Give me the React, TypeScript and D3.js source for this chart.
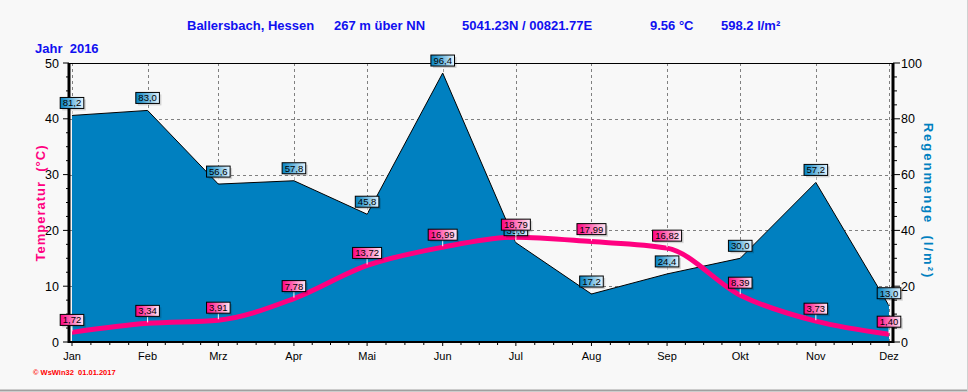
import React from 'react';
import * as d3 from 'd3';

const months = ['Jan', 'Feb', 'Mrz', 'Apr', 'Mai', 'Jun', 'Jul', 'Aug', 'Sep', 'Okt', 'Nov', 'Dez'];
const temperature = [1.72, 3.34, 3.91, 7.78, 13.72, 16.99, 18.79, 17.99, 16.82, 8.39, 3.73, 1.4];
const rain = [81.2, 83.0, 56.6, 57.8, 45.8, 96.4, 35.6, 17.2, 24.4, 30.0, 57.2, 13.0];
const tempTicks = [0, 10, 20, 30, 40, 50];
const rainTicks = [0, 20, 40, 60, 80, 100];
const titleParts = [
  { text: 'Ballersbach, Hessen', x: 187 },
  { text: '267 m über NN', x: 334 },
  { text: '5041.23N / 00821.77E', x: 462 },
  { text: '9.56 °C', x: 650 },
  { text: '598.2 l/m²', x: 721 },
];

const W = 968;
const H = 392;
const left = 69;
const right = 893;
const top = 63;
const bottom = 342;

const dates = months.map((m, i) => new Date(2016, i, 1));

const fmt = (v: number, d: number) => v.toFixed(d).replace('.', ',');
const pre = { whiteSpace: 'pre' as const };

function Label({ x, y, text, kind }: { x: number; y: number; text: string; kind: 't' | 'r' }) {
  const w = text.length * 5.4 + 2;
  const h = 11;
  const by = y - 7 - h;
  return (
    <g>
      <line x1={x} x2={x} y1={by + h} y2={y - 1} stroke="#fff" strokeWidth={1} />
      <rect x={x - w / 2 + 2} y={by + 2} width={w} height={h} fill="#000" opacity={0.15} />
      <rect x={x - w / 2} y={by} width={w} height={h} fill={`url(#grad-${kind})`} stroke="#000" strokeWidth={1} />
      <text x={x} y={by + 9} textAnchor="middle" fontSize={9.5} fontFamily="Liberation Sans, Arial" fill="#000">
        {text}
      </text>
    </g>
  );
}

export default function App() {
  const x = d3.scaleTime().domain([dates[0], dates[11]]).range([72, 889]);
  const yT = d3.scaleLinear().domain([0, 50]).range([bottom, top]);
  const yR = d3.scaleLinear().domain([0, 100]).range([bottom, top]);

  const area = d3
    .area<number>()
    .x((d, i) => x(dates[i]))
    .y0(bottom)
    .y1(d => yR(d));
  const rainTop = d3
    .line<number>()
    .x((d, i) => x(dates[i]))
    .y(d => yR(d));
  const tempLine = d3
    .line<number>()
    .x((d, i) => x(dates[i]))
    .y(d => yT(d))
    .curve(d3.curveMonotoneX);

  // quarter month ticks on the x axis
  const minorX: number[] = [];
  for (let i = 0; i < 11; i++) {
    const a = x(dates[i]);
    const b = x(dates[i + 1]);
    for (let k = 1; k < 4; k++) minorX.push(a + ((b - a) * k) / 4);
  }
  const minorT = d3.range(0, 50.01, 2.5);
  const minorR = d3.range(0, 100.01, 5);

  return (
    <svg width={W} height={H} style={{ position: 'fixed', left: 0, top: 0, background: '#f8f8f8' }}>
      <defs>
        <linearGradient id="grad-t" x1="0" x2="1" y1="0" y2="0">
          <stop offset="0" stopColor="#ff0080" />
          <stop offset="1" stopColor="#ffe8f4" />
        </linearGradient>
        <linearGradient id="grad-r" x1="0" x2="1" y1="0" y2="0">
          <stop offset="0" stopColor="#0080c0" />
          <stop offset="1" stopColor="#e4f4ff" />
        </linearGradient>
      </defs>
      <rect x={0} y={0} width={W} height={H} fill="#f8f8f8" />
      <line x1={0} x2={W} y1={H - 1.5} y2={H - 1.5} stroke="#a0a0a0" strokeWidth={2} />
      <line x1={W - 0.5} x2={W - 0.5} y1={0} y2={H} stroke="#d0d0d0" strokeWidth={1} />

      {/* title */}
      {titleParts.map(p => (
        <text key={p.text} x={p.x} y={30} fontSize={13} fontWeight="bold" fontFamily="Liberation Sans, Arial" fill="#1010f0">
          {p.text}
        </text>
      ))}
      <text x={35} y={53} style={pre} fontSize={13} fontWeight="bold" fontFamily="Liberation Sans, Arial" fill="#1010f0">
        {'Jahr  2016'}
      </text>

      {/* grid */}
      <g stroke="#808080" strokeWidth={1} strokeDasharray="3,3">
        {dates.map((d, i) => (
          <line key={i} x1={Math.round(x(d)) + 0.5} x2={Math.round(x(d)) + 0.5} y1={top} y2={bottom} />
        ))}
        {tempTicks.slice(1, -1).map(t => (
          <line key={t} x1={left} x2={right} y1={Math.round(yT(t)) + 0.5} y2={Math.round(yT(t)) + 0.5} />
        ))}
      </g>

      {/* rain area */}
      <path d={area(rain) || ''} fill="#0080c0" />
      <path d={rainTop(rain) || ''} fill="none" stroke="#000" strokeWidth={1} />

      {/* temperature */}
      <path d={tempLine(temperature) || ''} fill="none" stroke="#ff0080" strokeWidth={5} />

      {/* frame */}
      <line x1={left} x2={right} y1={top + 0.5} y2={top + 0.5} stroke="#000" strokeWidth={1} />
      <line x1={left} x2={right} y1={bottom} y2={bottom} stroke="#000" strokeWidth={2} />
      <line x1={left} x2={left} y1={top} y2={bottom + 1} stroke="#000" strokeWidth={3} />
      <line x1={right} x2={right} y1={top} y2={bottom + 1} stroke="#000" strokeWidth={3} />

      {/* left axis */}
      {minorT.map(t => (
        <line key={t} x1={left - (t % 10 === 0 ? 6 : 3)} x2={left} y1={yT(t)} y2={yT(t)} stroke="#000" />
      ))}
      {tempTicks.map(t => (
        <text key={t} x={59} y={yT(t) + 4.5} textAnchor="end" fontSize={12.5} fontFamily="Liberation Sans, Arial" fill="#000">
          {t}
        </text>
      ))}

      {/* right axis */}
      {minorR.map(t => (
        <line key={t} x1={right} x2={right + (t % 20 === 0 ? 7 : 4)} y1={yR(t)} y2={yR(t)} stroke="#000" />
      ))}
      {rainTicks.map(t => (
        <text key={t} x={901} y={yR(t) + 4.5} fontSize={12.5} fontFamily="Liberation Sans, Arial" fill="#000">
          {t}
        </text>
      ))}

      {/* bottom axis */}
      {minorX.map((v, i) => (
        <line key={i} x1={v} x2={v} y1={bottom} y2={bottom + 3} stroke="#000" />
      ))}
      {dates.map((d, i) => (
        <g key={i}>
          <line x1={x(d)} x2={x(d)} y1={bottom} y2={bottom + 4} stroke="#000" />
          <text x={x(d)} y={360} textAnchor="middle" fontSize={11} fontFamily="Liberation Sans, Arial" fill="#000">
            {months[i]}
          </text>
        </g>
      ))}

      {/* axis titles */}
      <text
        transform="translate(45,203) rotate(-90)"
        textAnchor="middle"
        style={pre}
        fontSize={13}
        fontWeight="bold"
        letterSpacing={1}
        fontFamily="Liberation Sans, Arial"
        fill="#ff0080"
      >
        {'Temperatur  (°C)'}
      </text>
      <text
        transform="translate(924,201) rotate(90)"
        textAnchor="middle"
        style={pre}
        fontSize={13}
        fontWeight="bold"
        letterSpacing={2}
        fontFamily="Liberation Sans, Arial"
        fill="#0080c0"
      >
        {'Regenmenge  (l/m²)'}
      </text>

      {/* value labels (Jul rain label sits under the temperature label, as in the original) */}
      {rain.map((v, i) => (
        <Label key={'r' + i} x={x(dates[i])} y={yR(v)} text={fmt(v, 1)} kind="r" />
      ))}
      {temperature.map((v, i) => (
        <Label key={'t' + i} x={x(dates[i])} y={yT(v)} text={fmt(v, 2)} kind="t" />
      ))}

      <text x={33} y={375} style={pre} fontSize={7.5} fontWeight="bold" fontFamily="Liberation Sans, Arial" fill="#ff0000">
        {'© WsWin32  01.01.2017'}
      </text>
    </svg>
  );
}
